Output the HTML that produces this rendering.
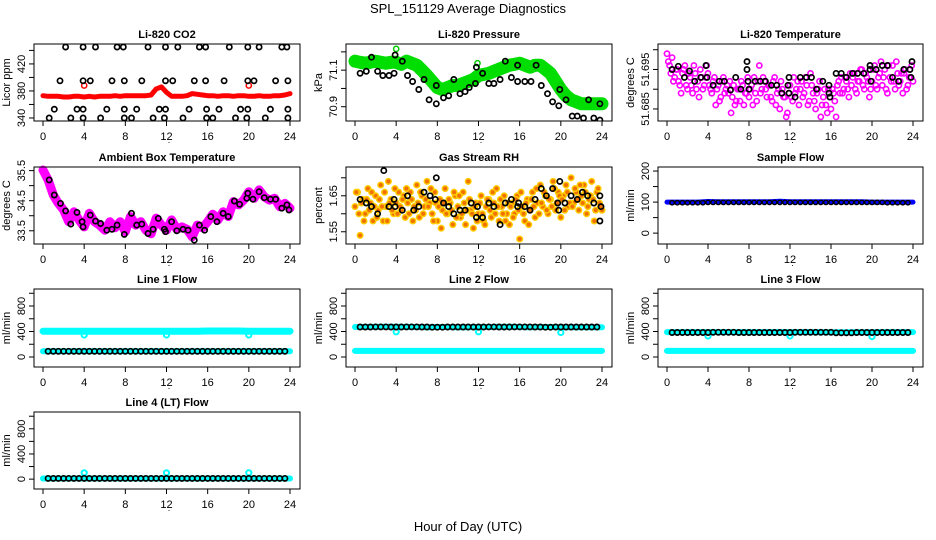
<!DOCTYPE html>
<html><head><meta charset="utf-8">
<style>
html,body{margin:0;padding:0;background:#fff;}
svg{display:block;font-family:"Liberation Sans",Arial,sans-serif;}
</style></head>
<body>
<svg id="chart" width="936" height="540" viewBox="0 0 936 540" xmlns="http://www.w3.org/2000/svg">
<text x="468" y="13" text-anchor="middle" font-size="13">SPL_151129  Average Diagnostics</text>
<text x="468" y="531" text-anchor="middle" font-size="13">Hour of Day (UTC)</text>
</svg>
<script>
// ---------- data ----------
const xTicks = [0,4,8,12,16,20,24];

// CO2
const co2RedHalfHour = [373,372,372,372,371,371,372,372,371,372,371,372,372,372,373,372,373,373,373,373,373,374,383,386,378,372,372,372,373,376,375,374,373,373,372,373,373,372,373,373,372,372,373,372,372,373,373,374,376];
const co2RedOutT = [4,20];
const co2RedOutV = [388,388];
const co2BlackT = [2.2,3.9,5.1,7.2,7.8,10.2,11.9,13.1,15.2,15.8,18.1,19.9,21.0,23.2,23.7,
 1.65,3.9,4.6,6.7,7.9,9.6,11.9,12.6,14.7,15.8,17.6,19.9,20.5,22.6,23.8,
 1.1,3.3,3.9,6.2,7.9,9.1,11.3,11.9,14.2,15.9,17.1,19.2,19.9,22.1,23.8,
 0.6,2.7,3.9,5.6,7.9,8.6,10.7,11.8,13.6,15.9,16.5,18.7,19.8,21.6,23.8];
const co2BlackV = [445,445,445,445,445,445,445,445,445,445,445,445,445,445,445,
 395,395,395,395,395,395,395,395,395,395,395,395,395,395,395,
 353,353,353,353,353,353,353,353,353,353,353,353,353,353,353,
 340,340,340,340,340,340,340,340,340,340,340,340,340,340,340];

// Pressure
const presGreenHalfHour = [71.149,71.143,71.138,71.143,71.149,71.143,71.138,71.143,71.143,71.132,71.149,71.138,71.127,71.100,71.071,71.038,71.005,70.994,71.005,71.016,71.016,71.027,71.038,71.049,71.071,71.077,71.082,71.094,71.105,71.116,71.127,71.132,71.138,71.127,71.116,71.127,71.127,71.105,71.082,71.038,70.994,70.960,70.938,70.927,70.916,70.916,70.916,70.916,70.916];
const presGreenOutT = [4.0,11.9,20.0];
const presGreenOutV = [71.216,71.138,71.016];
const presBlackT = [0.5,1.1,1.6,2.2,2.7,3.3,3.8,3.9,4.6,5.1,5.6,6.2,6.7,7.2,7.9,7.9,8.6,9.1,9.6,10.2,10.7,11.1,11.7,11.8,12.4,13.0,13.5,14.1,14.6,15.2,15.8,15.8,16.5,17.1,17.6,18.1,18.7,19.2,19.8,19.9,20.5,21.1,21.6,22.2,22.7,23.2,23.8,23.8];
const presBlackV = [71.083,71.094,71.171,71.094,71.071,71.071,71.083,71.183,71.149,71.071,71.038,70.994,71.049,70.938,70.916,71.016,70.949,70.960,71.049,70.971,70.983,71.005,71.027,71.116,71.083,71.027,71.027,71.049,71.149,71.060,71.038,71.127,71.038,71.038,71.127,71.016,70.971,70.927,70.905,70.994,70.938,70.849,70.849,70.838,70.938,70.838,70.827,70.916];

// Li-820 temperature
const tempPinkA = [51.699,51.696,51.698,51.693,51.695,51.691,51.694,51.696,51.690,51.693,51.689,51.694,51.692,51.695,51.690,51.693,51.694,51.690,51.692,51.686,51.691,51.688,51.693,51.690,51.689,51.684,51.691,51.687,51.690,51.692,51.686,51.689,51.688,51.691,51.693,51.687,51.696,51.690,51.692,51.688,51.691,51.687,51.693,51.689,51.685,51.690,51.688,51.684,51.691,51.687,51.689,51.692,51.690,51.688,51.693,51.686,51.694,51.689,51.685,51.690,51.683,51.688,51.686,51.690,51.685,51.689,51.683,51.692,51.693,51.690,51.692,51.688,51.691,51.694,51.689,51.692,51.695,51.690,51.693,51.688,51.692,51.696,51.690,51.694,51.691,51.695,51.689,51.693,51.696,51.690,51.694,51.692,51.689,51.695,51.691,51.693,51.692];
const tempPinkB = [51.697,51.694,51.692,51.695,51.692,51.689,51.695,51.691,51.694,51.691,51.696,51.690,51.688,51.693,51.691,51.696,51.691,51.689,51.693,51.690,51.687,51.692,51.689,51.691,51.692,51.688,51.686,51.690,51.687,51.691,51.689,51.693,51.690,51.686,51.689,51.692,51.689,51.693,51.690,51.691,51.688,51.692,51.686,51.690,51.692,51.688,51.683,51.689,51.688,51.693,51.690,51.686,51.692,51.689,51.691,51.687,51.691,51.687,51.689,51.692,51.686,51.690,51.684,51.688,51.690,51.687,51.691,51.689,51.689,51.693,51.690,51.694,51.693,51.690,51.692,51.695,51.691,51.694,51.692,51.690,51.695,51.691,51.693,51.697,51.693,51.690,51.696,51.692,51.692,51.697,51.691,51.694,51.694,51.690,51.693,51.696];
const tempBlackT = [0.5,1.1,1.7,2.2,2.7,3.3,3.8,3.9,4.5,5.1,5.6,6.2,6.7,7.2,7.8,7.8,7.9,8.0,8.6,9.1,9.6,10.2,10.7,11.2,11.8,11.9,11.9,12.5,13.0,13.6,14.1,14.6,15.2,15.8,15.8,15.9,16.5,17.0,17.5,18.1,18.6,19.2,19.8,19.8,19.9,20.4,21.0,21.5,22.0,22.6,23.1,23.7,23.8,23.9];
const tempBlackV = [51.695,51.6958,51.693,51.6946,51.692,51.693,51.696,51.693,51.691,51.692,51.692,51.6898,51.693,51.690,51.697,51.695,51.692,51.690,51.692,51.692,51.692,51.691,51.691,51.689,51.691,51.693,51.689,51.688,51.693,51.693,51.693,51.690,51.692,51.691,51.689,51.688,51.694,51.694,51.693,51.694,51.694,51.694,51.696,51.695,51.692,51.695,51.696,51.696,51.693,51.692,51.695,51.695,51.693,51.697];

// Ambient box temperature
const ambMagentaHalfHour = [35.52,35.19,34.69,34.41,34.19,33.80,34.13,33.86,33.63,34.08,33.80,33.69,33.52,33.80,33.60,33.80,33.47,33.97,33.69,33.80,33.52,33.40,33.92,33.69,33.52,33.86,33.55,33.63,33.55,33.30,33.69,33.60,33.80,34.05,33.86,34.13,33.97,34.47,34.36,34.52,34.80,34.58,34.86,34.63,34.52,34.58,34.30,34.41,34.25];
const ambBlackT = [0.6,1.1,1.7,2.2,2.7,3.3,3.8,3.9,4.6,5.1,5.6,6.2,6.7,7.2,7.9,8.6,9.1,9.6,10.2,10.7,11.2,11.8,11.9,12.5,13.0,13.6,14.1,14.7,15.2,15.7,16.3,16.9,17.5,18.0,18.6,19.1,19.8,19.9,20.4,21.0,21.5,22.1,22.6,23.2,23.7,23.9];
const ambBlackV = [35.19,34.69,34.41,34.16,33.72,34.11,33.80,33.63,34.02,33.82,33.74,33.52,33.55,33.69,33.38,34.08,33.69,33.72,33.41,33.55,33.91,33.55,33.47,33.80,33.50,33.55,33.52,33.19,33.69,33.52,33.97,33.80,34.08,33.97,34.49,34.38,34.58,34.75,34.55,34.80,34.60,34.55,34.55,34.25,34.36,34.19];

// Gas stream RH
const rhOrangeA = [1.62,1.66,1.54,1.64,1.60,1.67,1.63,1.58,1.65,1.61,1.68,1.58,1.62,1.69,1.64,1.60,1.63,1.66,1.61,1.65,1.67,1.60,1.64,1.62,1.68,1.59,1.65,1.62,1.69,1.63,1.60,1.66,1.58,1.64,1.61,1.67,1.60,1.63,1.57,1.65,1.62,1.59,1.66,1.57,1.69,1.61,1.56,1.63,1.60,1.65,1.58,1.62,1.64,1.59,1.63,1.67,1.58,1.62,1.65,1.60,1.57,1.63,1.60,1.65,1.53,1.62,1.58,1.64,1.61,1.66,1.59,1.63,1.68,1.62,1.65,1.60,1.64,1.69,1.61,1.66,1.59,1.65,1.68,1.62,1.70,1.63,1.66,1.61,1.65,1.68,1.60,1.64,1.69,1.58,1.66,1.63,1.61];
const rhOrangeB = [1.66,1.60,1.63,1.58,1.64,1.61,1.66,1.62,1.59,1.64,1.62,1.66,1.58,1.63,1.61,1.67,1.60,1.62,1.64,1.59,1.63,1.66,1.58,1.61,1.63,1.66,1.60,1.64,1.62,1.67,1.58,1.63,1.62,1.56,1.63,1.60,1.64,1.61,1.66,1.59,1.65,1.60,1.63,1.61,1.64,1.60,1.62,1.58,1.63,1.60,1.57,1.64,1.61,1.66,1.60,1.62,1.64,1.60,1.58,1.63,1.62,1.59,1.64,1.61,1.66,1.60,1.63,1.57,1.64,1.62,1.67,1.60,1.63,1.66,1.61,1.64,1.62,1.67,1.63,1.65,1.64,1.61,1.66,1.63,1.62,1.67,1.64,1.68,1.63,1.66,1.62,1.65,1.64,1.61,1.67,1.62];
const rhBlackT = [0.5,1.1,1.6,2.2,2.8,3.3,3.8,3.9,4.6,5.1,5.7,6.2,6.7,7.3,7.8,7.9,8.6,9.1,9.6,10.2,10.7,11.3,11.8,11.9,12.4,13.0,13.5,14.1,14.6,15.2,15.8,15.9,16.5,17.0,17.5,18.1,18.6,19.2,19.7,19.8,19.9,20.4,21.0,21.6,22.1,22.6,23.2,23.8,23.8,23.9];
const rhBlackV = [1.64,1.63,1.62,1.60,1.72,1.62,1.64,1.62,1.61,1.65,1.61,1.62,1.66,1.65,1.64,1.70,1.63,1.62,1.60,1.61,1.61,1.63,1.59,1.62,1.59,1.63,1.62,1.57,1.63,1.64,1.62,1.63,1.62,1.61,1.64,1.67,1.65,1.67,1.63,1.61,1.69,1.63,1.65,1.64,1.66,1.65,1.63,1.58,1.65,1.62];

// Sample flow
const sampleBlueHourly = [100,100,100,100,102,101,101,101,101,101,101,103,101,101,101,101,101,101,101,101,100,100,100,100,100];
const sampleBlackHalfHour = [98,98,98,98,98,98,98,99,99,99,99,99,99,99,99,99,99,99,99,99,99,99,99,99,99,99,99,99,99,99,99,99,99,99,99,99,99,99,99,99,99,99,98,98,98,98,98];

// Line flows
const line1CyanHi = [405,405,405,405,405,405,405,405,405,405,405,405,405,405,405,405,408,408,408,408,405,405,405,405,405];
const line1CyanLo = [90,90,90,90,90,90,90,90,90,90,90,90,90,90,90,90,90,90,90,90,90,90,90,90,90];
const line1Black = [90,90,90,90,90,90,90,90,90,90,90,90,90,90,90,90,90,90,90,90,90,90,90,90,90,90,90,90,90,90,90,90,90,90,90,90,90,90,90,90,90,90,90,90,90,90,90];
const line2CyanHi = [470,470,475,475,475,472,470,468,470,470,465,468,470,470,472,475,470,468,470,470,468,468,468,468,468];
const line2CyanLo = [95,95,95,95,95,95,95,95,95,95,95,95,95,95,95,95,95,95,95,95,95,95,95,95,95];
const line2Black = [470,470,470,472,472,472,470,470,470,472,472,472,470,470,468,468,468,470,470,470,470,470,470,470,470,472,472,470,470,470,472,472,472,472,470,470,468,468,470,470,470,470,470,470,470,470,470];
const line3CyanHi = [390,390,390,390,390,390,390,390,390,390,390,390,390,390,390,388,388,388,388,388,388,390,390,390,390];
const line3CyanLo = [95,95,95,95,95,95,95,95,95,95,95,95,95,95,95,95,95,95,95,95,95,95,95,95,95];
const line3Black = [385,385,385,385,385,385,385,385,388,388,388,388,388,385,385,385,385,385,385,385,385,385,385,385,388,388,388,388,388,388,388,388,380,380,380,380,385,385,385,385,385,385,385,385,385,385,385];
const line4Cyan = [10,10,10,10,10,10,10,10,10,10,10,10,10,10,10,10,10,10,10,10,10,10,10,10,10];
const line4Black = [12,12,12,12,12,12,12,12,12,12,12,12,12,12,12,12,12,12,12,12,12,12,12,12,12,12,12,12,12,12,12,12,12,12,12,12,12,12,12,12,12,12,12,12,12,12,12];
const dipT = [4,12,20];
const line1DipV = [345,345,345];
const line2DipV = [395,395,385];
const line3DipV = [330,330,320];
const line4SpikeV = [100,100,100];

// ---------- drawing ----------
const NS = 'http://www.w3.org/2000/svg';
const svg = document.getElementById('chart');
function mk(tag, attrs, parent) {
  const e = document.createElementNS(NS, tag);
  for (const k in attrs) e.setAttribute(k, attrs[k]);
  (parent || svg).appendChild(e);
  return e;
}
const cols = [[34,300],[346,612],[658,923]];
const rows = [[44,121],[167,244],[289,367],[412,489]];

function panel(name, title, ytitle, c, r, ymin, ymax, yticks, ylabels) {
  const [L, R] = cols[c], [T, B] = rows[r];
  const g = mk('g', {});
  
  
  const x0 = L + 9, x24 = R - 10;
  const sx = t => x0 + (x24 - x0) * t / 24;
  const sy = v => B - (v - ymin) / (ymax - ymin) * (B - T);
  const plot = mk('g', {}, g);
  
  
  const clip = mk('clipPath', {id: 'clip-' + name}, g);
  mk('rect', {x: L, y: T - 4, width: R - L, height: B - T + 4}, clip);
  plot.setAttribute('clip-path', 'url(#clip-' + name + ')');
  const box = mk('rect', {x: L, y: T, width: R - L, height: B - T, fill: 'none', stroke: '#000', 'stroke-width': 1}, g);
  
  
  const tt = mk('text', {x: (L + R) / 2, y: T - 6, 'text-anchor': 'middle', 'font-size': 11, 'font-weight': 'bold'}, g);
  tt.textContent = title;
  
  
  const xa = mk('g', {}, g);
  
  
  mk('line', {x1: sx(0), x2: sx(24), y1: B, y2: B, stroke: '#000'}, xa);
  xTicks.forEach(t => {
    mk('line', {x1: sx(t), x2: sx(t), y1: B, y2: B + 5, stroke: '#000'}, xa);
    const lb = mk('text', {x: sx(t), y: B + 19, 'text-anchor': 'middle', 'font-size': 11}, xa);
    lb.textContent = t;
    
    
  });
  const dot = mk('text', {x: (L + R) / 2 + 2, y: B + 22, 'text-anchor': 'middle', 'font-size': 9}, xa);
  dot.textContent = '.';
  const ya = mk('g', {}, g);
  
  
  mk('line', {x1: L, x2: L, y1: sy(yticks[0]), y2: sy(yticks[yticks.length - 1]), stroke: '#000'}, ya);
  yticks.forEach(v => mk('line', {x1: L - 5, x2: L, y1: sy(v), y2: sy(v), stroke: '#000'}, ya));
  ylabels.forEach(v => {
    const lb = mk('text', {x: 0, y: 0, 'text-anchor': 'middle', 'font-size': 11, transform: `translate(${L - 9},${sy(v)}) rotate(-90)`}, ya);
    lb.textContent = v;
    
    
  });
  const yt = mk('text', {x: 0, y: 0, 'text-anchor': 'middle', 'font-size': 11, transform: `translate(${L - 24},${(T + B) / 2}) rotate(-90)`}, ya);
  yt.textContent = ytitle;
  
  
  return {sx, sy, plot};
}
function band(p, ts, vs, color, w, label) {
  const pts = ts.map((t, i) => p.sx(t).toFixed(1) + ',' + p.sy(vs[i]).toFixed(1)).join(' ');
  const pl = mk('polyline', {points: pts, fill: 'none', stroke: color, 'stroke-width': w, 'stroke-linejoin': 'round', 'stroke-linecap': 'round'}, p.plot);
  
  
}
function pts(p, ts, vs, stroke, fill, r, sw, label) {
  const g = mk('g', {}, p.plot);
  
  
  ts.forEach((t, i) => {
    const c = mk('circle', {cx: p.sx(t).toFixed(1), cy: p.sy(vs[i]).toFixed(1), r: r, fill: fill, stroke: stroke, 'stroke-width': sw}, g);
    
    
  });
}
const half = n => Array.from({length: n}, (_, i) => i * 0.5);
const halfFrom = n => Array.from({length: n}, (_, i) => 0.5 + i * 0.5);
const hours = n => Array.from({length: n}, (_, i) => i);
const quarter = n => Array.from({length: n}, (_, i) => i * 0.25);
const quarterOff = n => Array.from({length: n}, (_, i) => 0.125 + i * 0.25);
const BR = 2.6, BW = 1.7;

let p = panel('co2', 'Li-820 CO2', 'Licor ppm', 0, 0, 335.5, 449.5, [340,360,380,400,420,440], [340,380,420]);
band(p, half(49), co2RedHalfHour, '#ff0000', 5, 'co2-red-series');
pts(p, co2RedOutT, co2RedOutV, '#ff0000', 'none', 2.6, 1.5, 'co2-red-outliers');
pts(p, co2BlackT, co2BlackV, '#000', 'none', BR, BW, 'co2-average-points');

p = panel('pressure', 'Li-820 Pressure', 'kPa', 1, 0, 70.822, 71.243, [70.9,71.0,71.1,71.2], [70.9,71.1]);
band(p, half(49), presGreenHalfHour, '#00dd00', 13, 'pressure-green-series');
pts(p, presGreenOutT, presGreenOutV, '#00cc00', 'none', 2.6, 1.5, 'pressure-green-outliers');
pts(p, presBlackT, presBlackV, '#000', 'none', BR, BW, 'pressure-average-points');

p = panel('li-temp', 'Li-820 Temperature', 'degrees C', 2, 0, 51.68195, 51.70145, [51.685,51.690,51.695,51.700], ['51.685','51.695']);
pts(p, quarter(97), tempPinkA, '#ff00ff', 'none', 2.6, 1.6, 'li-temp-pink-series-a');
pts(p, quarterOff(96), tempPinkB, '#ff00ff', 'none', 2.6, 1.6, 'li-temp-pink-series-b');
pts(p, tempBlackT, tempBlackV, '#000', 'none', BR, BW, 'li-temp-average-points');

p = panel('ambient', 'Ambient Box Temperature', 'degrees C', 0, 1, 33.06, 35.62, [33.5,34.0,34.5,35.0,35.5], ['33.5','34.5','35.5']);
band(p, half(49), ambMagentaHalfHour, '#ff00ff', 9, 'ambient-magenta-series');
pts(p, ambBlackT, ambBlackV, '#000', 'none', BR, BW, 'ambient-average-points');

p = panel('rh', 'Gas Stream RH', 'percent', 1, 1, 1.516, 1.730, [1.55,1.60,1.65,1.70], ['1.55','1.65']);
pts(p, quarter(97), rhOrangeA, '#ffcc00', '#f07000', 2.8, 1.5, 'rh-orange-series-a');
pts(p, quarterOff(96), rhOrangeB, '#ffcc00', '#f07000', 2.8, 1.5, 'rh-orange-series-b');
pts(p, rhBlackT, rhBlackV, '#000', 'none', BR, BW, 'rh-average-points');

p = panel('sample-flow', 'Sample Flow', 'ml/min', 2, 1, -35, 213, [0,50,100,150,200], [0,100,200]);
band(p, hours(25), sampleBlueHourly, '#0000ff', 5, 'sample-flow-blue-series');
pts(p, halfFrom(47), sampleBlackHalfHour, '#000', 'none', 2.2, 1.4, 'sample-flow-average-points');

const fTicks = [0,200,400,600,800,1000], fLabels = [0,400,800];
p = panel('line1', 'Line 1 Flow', 'ml/min', 0, 2, -157, 1067, fTicks, fLabels);
band(p, hours(25), line1CyanHi, '#00ffff', 7, 'line1-cyan-high');
band(p, hours(25), line1CyanLo, '#00ffff', 6, 'line1-cyan-low');
pts(p, dipT, line1DipV, '#00ffff', 'none', 2.6, 2, 'line1-cyan-dips');
pts(p, halfFrom(47), line1Black, '#000', 'none', BR, BW, 'line1-average-points');
p = panel('line2', 'Line 2 Flow', 'ml/min', 1, 2, -157, 1067, fTicks, fLabels);
band(p, hours(25), line2CyanHi, '#00ffff', 6, 'line2-cyan-high');
band(p, hours(25), line2CyanLo, '#00ffff', 6, 'line2-cyan-low');
pts(p, dipT, line2DipV, '#00ffff', 'none', 2.6, 2, 'line2-cyan-dips');
pts(p, halfFrom(47), line2Black, '#000', 'none', BR, BW, 'line2-average-points');
p = panel('line3', 'Line 3 Flow', 'ml/min', 2, 2, -157, 1067, fTicks, fLabels);
band(p, hours(25), line3CyanHi, '#00ffff', 6, 'line3-cyan-high');
band(p, hours(25), line3CyanLo, '#00ffff', 6, 'line3-cyan-low');
pts(p, dipT, line3DipV, '#00ffff', 'none', 2.6, 2, 'line3-cyan-dips');
pts(p, halfFrom(47), line3Black, '#000', 'none', BR, BW, 'line3-average-points');
p = panel('line4', 'Line 4 (LT) Flow', 'ml/min', 0, 3, -157, 1067, fTicks, fLabels);
band(p, hours(25), line4Cyan, '#00ffff', 6, 'line4-cyan-series');
pts(p, dipT, line4SpikeV, '#00ffff', 'none', 2.6, 2, 'line4-cyan-spikes');
pts(p, halfFrom(47), line4Black, '#000', 'none', BR, BW, 'line4-average-points');
</script>
</body></html>
